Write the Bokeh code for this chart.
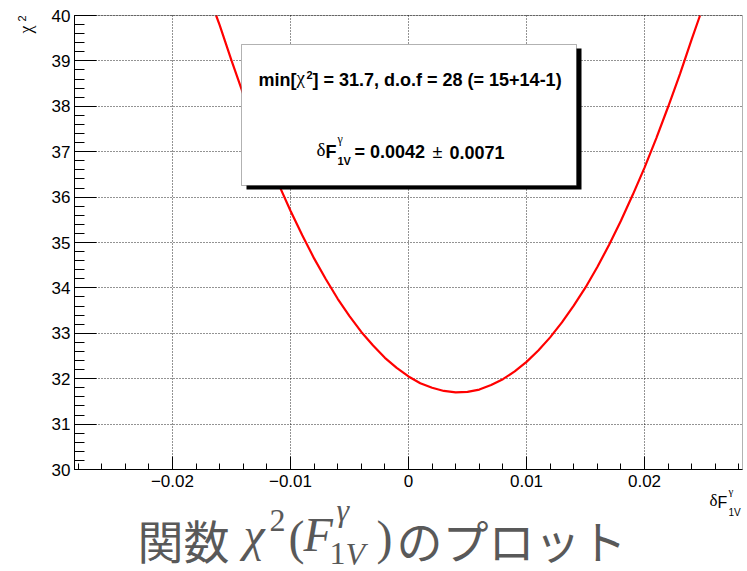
import math
import numpy as np
from bokeh.plotting import figure
from bokeh.models import Label, Range1d, FixedTicker, BoxAnnotation, CustomJSTickFormatter
from bokeh.embed import file_html
from bokeh.resources import INLINE

# chi-square scan versus the shift of the form factor (scan stops where chi2 reaches 40)
delta_f = [-0.0163, -0.016, -0.015, -0.014, -0.013, -0.012, -0.011, -0.010,
           -0.009, -0.008, -0.007, -0.006, -0.005, -0.004, -0.003, -0.002,
           -0.001, 0.000, 0.001, 0.002, 0.003, 0.004, 0.005, 0.006, 0.007,
           0.008, 0.009, 0.010, 0.011, 0.012, 0.013, 0.014, 0.015, 0.016,
           0.017, 0.018, 0.019, 0.020, 0.021, 0.022, 0.023, 0.024, 0.0247]
chi2 = [40.00, 39.79, 39.01, 38.27, 37.57, 36.91, 36.28, 35.70,
        35.16, 34.65, 34.19, 33.76, 33.38, 33.03, 32.73, 32.46,
        32.24, 32.05, 31.90, 31.80, 31.73, 31.70, 31.71, 31.76, 31.86,
        31.99, 32.16, 32.37, 32.62, 32.91, 33.24, 33.61, 34.01, 34.46,
        34.95, 35.48, 36.05, 36.65, 37.30, 37.99, 38.71, 39.48, 40.00]

# fit summary
chi2_min = 31.7
n_points_a, n_points_b, n_par = 15, 14, 1
ndof = n_points_a + n_points_b - n_par
best_fit = 0.0042
best_err = 0.0071

x_major = [-0.02, -0.01, 0.0, 0.01, 0.02]
y_major = [30, 31, 32, 33, 34, 35, 36, 37, 38, 39, 40]

# canvas and plotting-area geometry (pixels)
W, H = 747, 571
L, R, T, B = 74, 742, 15, 469
x_lo, x_hi = -0.0283, 0.0283
y_lo, y_hi = 30.0, 40.0


def dx(px):
    return x_lo + (px - L) * (x_hi - x_lo) / (R - L)


def dy(py):
    return y_hi - (py - T) * (y_hi - y_lo) / (B - T)


# the frame spans the whole canvas; the axes sit at the edges of the plotting area
p = figure(width=W, height=H, x_range=Range1d(dx(0), dx(W)), y_range=Range1d(dy(H), dy(0)),
           output_backend="svg", toolbar_location=None,
           min_border_left=0, min_border_right=0, min_border_top=0, min_border_bottom=0)
p.title.visible = False
p.background_fill_color = "white"
p.border_fill_color = "white"
p.outline_line_color = None

x_minor = [round(v, 4) for v in np.arange(-0.028, 0.0281, 0.002)]
y_minor = [round(v, 2) for v in np.arange(30.0, 40.01, 0.2)]

p.xaxis.ticker = FixedTicker(ticks=x_major, minor_ticks=x_minor)
p.yaxis.ticker = FixedTicker(ticks=y_major, minor_ticks=y_minor)
p.xaxis.formatter = CustomJSTickFormatter(code="""
    if (Math.abs(tick) < 1e-9) return '0';
    return (tick < 0 ? '\u2212' : '') + Math.abs(tick).toFixed(2);
""")
p.xaxis.fixed_location = y_lo
p.xaxis.bounds = (x_lo, x_hi)
p.yaxis.fixed_location = x_lo
p.yaxis.bounds = (y_lo, y_hi)

for ax in (p.xaxis[0], p.yaxis[0]):
    ax.axis_line_color = "black"
    ax.major_tick_line_color = "black"
    ax.minor_tick_line_color = "black"
    ax.major_tick_out = 0
    ax.minor_tick_out = 0
    ax.major_label_text_font = "Liberation Sans"
    ax.major_label_text_font_size = "17px"
    ax.major_label_text_color = "black"

p.yaxis.major_tick_in = 22
p.yaxis.minor_tick_in = 10
p.yaxis.major_label_standoff = 4
p.xaxis.major_tick_in = 13
p.xaxis.minor_tick_in = 6
p.xaxis.major_label_standoff = 5

# dotted grid confined to the plotting area
p.xgrid.ticker = FixedTicker(ticks=x_major)
p.ygrid.ticker = FixedTicker(ticks=y_major)
p.xgrid.bounds = (x_lo, x_hi)
p.ygrid.bounds = (y_lo, y_hi)
p.xgrid.cross_bounds = (y_lo, y_hi)
p.ygrid.cross_bounds = (x_lo, x_hi)
for g in (p.xgrid[0], p.ygrid[0]):
    g.grid_line_color = "black"
    g.grid_line_alpha = 0.85
    g.grid_line_dash = "1 2"
    g.grid_line_width = 1

p.line(delta_f, chi2, line_color="#ff0000", line_width=2.2)

# border of the plotting area
p.add_layout(BoxAnnotation(left=x_lo, right=x_hi, bottom=y_lo, top=y_hi,
                           fill_alpha=0, line_color="black", line_width=1))

# fit result box with drop shadow
p.add_layout(BoxAnnotation(left=dx(246), right=dx(581), top=dy(48), bottom=dy(189),
                           fill_color="black", fill_alpha=1.0, line_alpha=0))
p.add_layout(BoxAnnotation(left=dx(241), right=dx(576), top=dy(44), bottom=dy(185),
                           fill_color="white", fill_alpha=1.0, line_color="black", line_width=1))

# vertical correction (fraction of the font size) so that py is the glyph baseline
BASE_SHIFT = {"Liberation Sans": 0.30, "Liberation Serif": 0.40, "Noto Sans CJK JP": 0.43}
SANS, SERIF, CJK = "Liberation Sans", "Liberation Serif", "Noto Sans CJK JP"


def put(text, px, py, size, font=SANS, style="normal", align="left",
        color="black", angle=0.0):
    s = BASE_SHIFT[font] * size
    if angle:
        px = px - s
    else:
        py = py - s
    p.add_layout(Label(x=dx(px), y=dy(py), text=text, text_font=font,
                       text_font_size=f"{size}px", text_font_style=style,
                       text_align=align, text_baseline="alphabetic",
                       text_color=color, angle=angle))


# line 1: minimum chi-square and degrees of freedom
put("min[", 296, 85, 18, style="bold", align="right")
put("χ", 296, 85, 19, font=SERIF)
put("2", 306, 78, 11, style="bold")
put(f"] = {chi2_min}, d.o.f = {ndof} (= {n_points_a}+{n_points_b}-{n_par})", 312, 85, 18, style="bold")

# line 2: best-fit value and uncertainty
put("δ", 325, 157, 19, font=SERIF, align="right")
put("F", 325, 157, 18, style="bold")
put("γ", 337, 143, 12, font=SERIF)
put("1V", 337, 164, 11, style="bold")
put(f"= {best_fit:.4f}", 354, 157, 18, style="bold")
put("±", 432, 157, 18)
put(f"{best_err:.4f}", 449, 157, 18, style="bold")

# axis titles
put("δ", 717, 507, 17, font=SERIF, align="right")
put("F", 717, 507, 16)
put("γ", 728, 495, 11, font=SERIF)
put("1V", 728, 515, 10)
put("χ", 33, 33, 18, font=SERIF, angle=math.pi / 2)
put("2", 25, 21, 11, angle=math.pi / 2)

# caption below the plotting area
grey = "#595959"
put("関数", 137, 558, 46, font=CJK, color=grey)
put("χ", 243, 553, 48, font=SERIF, style="italic", color=grey)
put("2", 269, 533, 32, font=SERIF, color=grey)
put("(", 288, 556, 48, font=SERIF, color=grey)
put("F", 303, 553, 48, font=SERIF, style="italic", color=grey)
put("γ", 336, 522, 32, font=SERIF, style="italic", color=grey)
put("1", 329, 566, 32, font=SERIF, color=grey)
put("V", 345, 566, 32, font=SERIF, style="italic", color=grey)
put(")", 376, 556, 48, font=SERIF, color=grey)
put("のプロット", 396, 558, 46, font=CJK, color=grey)

open("out.html", "w").write(file_html(p, INLINE))
